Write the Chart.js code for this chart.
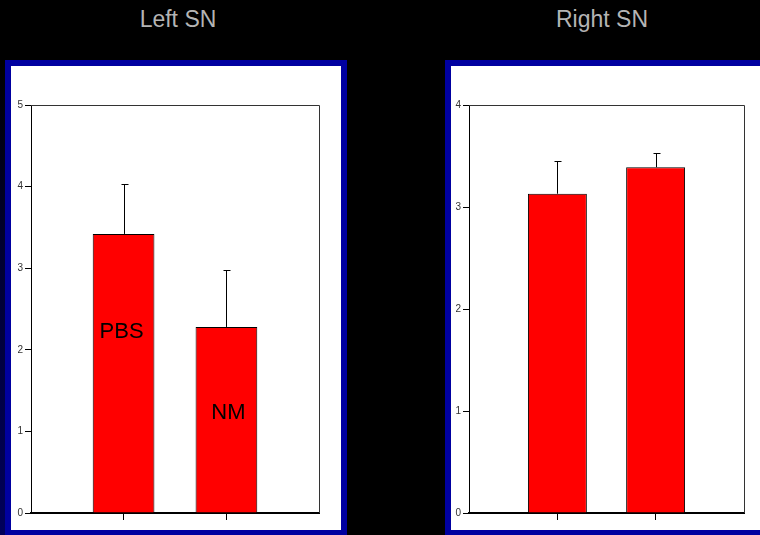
<!DOCTYPE html>
<html>
<head>
<meta charset="utf-8">
<script src="https://cdn.jsdelivr.net/npm/chart.js@4"></script>
<style>
  html, body { margin: 0; padding: 0; background: #000; overflow: hidden; }
  body { width: 760px; height: 535px; position: relative; font-family: "Liberation Sans", Arial, sans-serif; }
  .strip { position: absolute; left: 0; top: 60px; width: 6px; height: 475px;
           background: linear-gradient(to bottom, #000000, #000030 40%, #00005a); }
  .title { position: absolute; top: 6px; color: #b4b4b4; font-size: 23px; width: 200px; text-align: center; }
  .panel { position: absolute; top: 60px; background: #fff; border: 6px solid #0000a0; }
  canvas { display: block; }
</style>
</head>
<body>
<div class="strip"></div>
<div class="title" style="left:78px;">Left SN</div>
<div class="title" style="left:502px;">Right SN</div>
<div class="panel" style="left:5px; width:330px; height:464px;">
  <canvas id="leftChart" width="330" height="464"></canvas>
</div>
<div class="panel" style="left:445px; width:330px; height:464px;">
  <canvas id="rightChart" width="330" height="464"></canvas>
</div>
<script>
// values
const categories = ['PBS', 'NM'];
const categoryPos = [1, 2];
const leftMeans = [3.42, 2.28];
const leftErrors = [0.61, 0.70];
const rightMeans = [3.13, 3.39];
const rightErrors = [0.32, 0.14];
const leftTicks = [0, 1, 2, 3, 4, 5];
const rightTicks = [0, 1, 2, 3, 4];

// upper error bars with a small cap
const errorBars = {
  id: 'errorBars',
  afterDatasetsDraw(chart, args, opts) {
    const ctx = chart.ctx;
    const y = chart.scales.y;
    const meta = chart.getDatasetMeta(0);
    ctx.save();
    ctx.strokeStyle = '#000';
    ctx.lineWidth = 1;
    meta.data.forEach((bar, i) => {
      const x = Math.round(bar.x) + 0.5;
      const top = Math.round(y.getPixelForValue(opts.means[i] + opts.errors[i])) + 0.5;
      ctx.beginPath();
      ctx.moveTo(x, bar.y);
      ctx.lineTo(x, top);
      ctx.moveTo(x - 3, top);
      ctx.lineTo(x + 4, top);
      ctx.stroke();
    });
    // names written inside the bars
    if (opts.labels) {
      ctx.fillStyle = '#000';
      ctx.font = '22px "Liberation Sans", Arial, sans-serif';
      ctx.textAlign = 'center';
      ctx.textBaseline = 'alphabetic';
      meta.data.forEach((bar, i) => {
        ctx.fillText(opts.labels[i], bar.x + opts.dx[i], y.getPixelForValue(opts.labelY[i]));
      });
    }
    ctx.restore();
  }
};

// top and right edges of the box
const frame = {
  id: 'frame',
  beforeDatasetsDraw(chart) {
    const a = chart.chartArea;
    const ctx = chart.ctx;
    ctx.save();
    ctx.strokeStyle = '#333';
    ctx.lineWidth = 1;
    ctx.beginPath();
    ctx.moveTo(Math.round(a.left), Math.round(a.top) + 0.5);
    ctx.lineTo(Math.round(a.right) + 0.5, Math.round(a.top) + 0.5);
    ctx.lineTo(Math.round(a.right) + 0.5, Math.round(a.bottom));
    ctx.stroke();
    ctx.restore();
  }
};

function makeChart(id, means, errors, yTicks, yAxisWidth, padRight, labelOpts) {
  const ctx = document.getElementById(id).getContext('2d');
  return new Chart(ctx, {
    type: 'bar',
    data: {
      datasets: [{
        data: categoryPos.map((p, i) => ({ x: p, y: means[i] })),
        backgroundColor: '#ff0000',
        borderColor: '#000',
        borderWidth: 1,
        barPercentage: 0.6,
        categoryPercentage: 1.0
      }]
    },
    options: {
      responsive: false,
      animation: false,
      layout: { padding: { top: 39, right: padRight, left: 0, bottom: 0 } },
      plugins: {
        legend: { display: false },
        tooltip: { enabled: false },
        errorBars: Object.assign({ means: means, errors: errors }, labelOpts)
      },
      scales: {
        x: {
          type: 'linear',
          min: 0.1,
          max: 2.9,
          offset: false,
          afterBuildTicks: (s) => { s.ticks = categoryPos.map(v => ({ value: v })); },
          afterFit: (s) => { s.height = 17; },
          ticks: { callback: () => '', font: { size: 1 } },
          grid: { offset: false, drawOnChartArea: false, tickLength: 7, color: '#000', tickWidth: 1 },
          border: { display: true, color: '#000', width: 2 }
        },
        y: {
          min: yTicks[0],
          max: yTicks[yTicks.length - 1],
          afterBuildTicks: (s) => { s.ticks = yTicks.map(v => ({ value: v })); },
          afterFit: (s) => { s.width = yAxisWidth; },
          ticks: { color: '#333', padding: 2, font: { size: 10, family: '"Liberation Sans", Arial, sans-serif' } },
          grid: { drawOnChartArea: false, tickLength: 6, color: '#000', tickWidth: 1 },
          border: { display: true, color: '#000', width: 1 }
        }
      }
    },
    plugins: [frame, errorBars]
  });
}

makeChart('leftChart', leftMeans, leftErrors, leftTicks, 20, 22,
  { labels: categories, labelY: [2.14, 1.15], dx: [-2, 2] });
makeChart('rightChart', rightMeans, rightErrors, rightTicks, 18, 37, null);
</script>
</body>
</html>
